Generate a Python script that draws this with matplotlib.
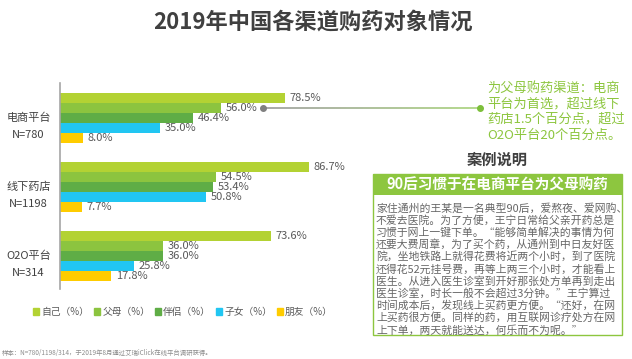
import numpy as np
import matplotlib
matplotlib.use("Agg")
from matplotlib import pyplot as plt
from matplotlib.patches import Patch, Rectangle
from matplotlib.collections import LineCollection

plt.rcParams['font.family'] = ['Noto Sans CJK SC', 'DejaVu Sans']

# datos
canales = ["电商平台", "线下药店", "O2O平台"]
muestras = ["N=780", "N=1198", "N=314"]
series = ["自己（%）", "父母（%）", "伴侣（%）", "子女（%）", "朋友（%）"]
ziji = [78.5, 86.7, 73.6]
fumu = [56.0, 54.5, 36.0]
banlv = [46.4, 53.4, 36.0]
zinv = [35.0, 50.8, 25.8]
pengyou = [8.0, 7.7, 17.8]
valores = [ziji, fumu, banlv, zinv, pengyou]
colores = ["#b3d233", "#8cc43f", "#5fad46", "#21c6f2", "#ffcc00"]

titulo = "2019年中国各渠道购药对象情况"
nota = ["为父母购药渠道：电商", "平台为首选，超过线下",
        "药店1.5个百分点，超过", "O2O平台20个百分点。"]
caso_titulo = "案例说明"
caso_banner = "90后习惯于在电商平台为父母购药"
caso_texto = [
    "家住通州的王某是一名典型90后，爱熬夜、爱网购、",
    "不爱去医院。为了方便，王宁日常给父亲开药总是",
    "习惯于网上一键下单。“能够简单解决的事情为何",
    "还要大费周章，为了买个药，从通州到中日友好医",
    "院，坐地铁路上就得花费将近两个小时，到了医院",
    "还得花52元挂号费，再等上两三个小时，才能看上",
    "医生。从进入医生诊室到开好那张处方单再到走出",
    "医生诊室，时长一般不会超过3分钟。”王宁算过",
    "时间成本后，发现线上买药更方便。“还好，在网",
    "上买药很方便。同样的药，用互联网诊疗处方在网",
    "上下单，两天就能送达，何乐而不为呢。”",
]
fuente = "样本：N=780/1198/314，于2019年8月通过艾瑞iClick在线平台调研获得。"

W, H = 632, 359
fig = plt.figure(figsize=(W / 100, H / 100), dpi=100)


def px(x, y):
    # pixeles -> fraccion de figura
    return x / W, 1 - y / H


# ejes de las barras
ax = fig.add_axes([60 / W, (H - 289) / H, 287 / W, 206 / H])
paso = 6.9
for j, (vals, col) in enumerate(zip(valores, colores)):
    ys = [i * paso + j for i in range(len(canales))]
    ax.barh(ys, vals, height=1.0, color=col, label=series[j])
    for y, v in zip(ys, vals):
        ax.text(v + 1.6, y, "%.1f%%" % v, va="center", ha="left",
                fontsize=8, color="#595959")

for i, (c, n) in enumerate(zip(canales, muestras)):
    yc = i * paso + 2
    ax.text(-11, yc, c, ha="center", va="center", fontsize=8, color="#404040", clip_on=False)
    ax.text(-11, yc + 1.7, n, ha="center", va="center", fontsize=8, color="#404040", clip_on=False)

ax.set_xlim(0, 100)
ax.set_ylim(19.1, -1.5)
for s in ["top", "right", "bottom"]:
    ax.spines[s].set_visible(False)
ax.spines["left"].set_color("#a6a6a6")
ax.spines["left"].set_linewidth(1.2)
ax.set_xticks([])
ax.set_yticks([])

# leyenda
handles = [Patch(color=c) for c in colores]
fig.legend(handles, series, loc="center", bbox_to_anchor=px(183, 312), ncol=5,
           frameon=False, fontsize=7, handlelength=0.6, handleheight=0.6,
           handletextpad=0.25, columnspacing=0.5, labelcolor="#595959")

# titulo
fig.text(*px(313, 22), titulo, ha="center", va="center", fontsize=16,
         fontweight="bold", color="#404040")

# linea de la nota
x0, x1, yl = 263, 480, 108
xs = np.linspace(x0, x1, 40)
segs = [[px(xs[k], yl), px(xs[k + 1], yl)] for k in range(len(xs) - 1)]
g0 = np.array(matplotlib.colors.to_rgb("#9a9a9a"))
g1 = np.array(matplotlib.colors.to_rgb("#a8d37a"))
cols = [tuple(g0 + (g1 - g0) * t) for t in np.linspace(0, 1, len(segs))]
fig.add_artist(LineCollection(segs, colors=cols, linewidths=1.2, transform=fig.transFigure))
fig.add_artist(plt.Line2D([px(x0, yl)[0]], [px(x0, yl)[1]], marker="o", ms=4,
                          color="#808080", transform=fig.transFigure))
fig.add_artist(plt.Line2D([px(x1, yl)[0]], [px(x1, yl)[1]], marker="o", ms=4,
                          color="#7cbf3a", transform=fig.transFigure))

for k, linea in enumerate(nota):
    fig.text(*px(487, 88 + k * 15.7), linea, ha="left", va="center",
             fontsize=9.5, color="#8dc63f")

# caja del caso
fig.text(*px(497, 160), caso_titulo, ha="center", va="center", fontsize=11,
         fontweight="bold", color="#404040")
bx0, by0, bx1, by1 = 373, 174, 622, 335
fig.add_artist(Rectangle(px(bx0, by1), (bx1 - bx0) / W, (by1 - by0) / H,
                         transform=fig.transFigure, facecolor="white",
                         edgecolor="#8dc63f", linewidth=1.0))
fig.add_artist(Rectangle(px(bx0, 195), (bx1 - bx0) / W, 21 / H,
                         transform=fig.transFigure, facecolor="#8dc63f",
                         edgecolor="none"))
fig.text(*px(497, 185), caso_banner, ha="center", va="center", fontsize=10.5,
         fontweight="bold", color="white")
for k, linea in enumerate(caso_texto):
    fig.text(*px(376, 208 + k * 12.2), linea, ha="left", va="center",
             fontsize=7.8, color="#666666")

fig.text(*px(2, 353), fuente, ha="left", va="center", fontsize=4.6, color="#8c8c8c")

fig.savefig("out.png", dpi=100)
